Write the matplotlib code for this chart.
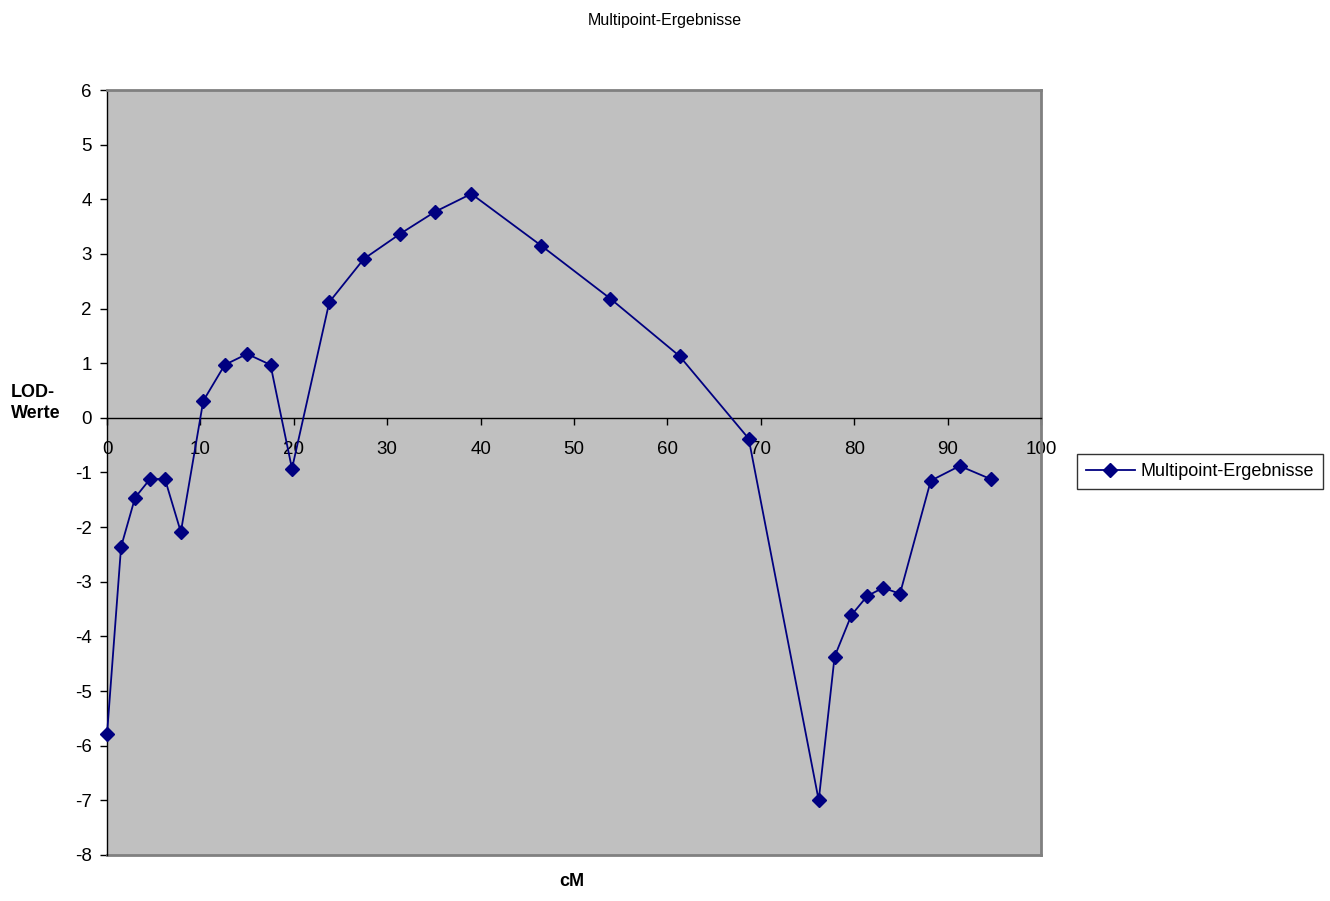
import matplotlib
matplotlib.use("Agg")
import matplotlib.pyplot as plt

plt.rcParams['font.family'] = ['Liberation Sans', 'DejaVu Sans']
plt.rcParams['axes.unicode_minus'] = False

# cM positions and LOD values
cm = [0, 1.5, 3.0, 4.6, 6.2, 7.9, 10.3, 12.6, 15.0, 17.5, 19.8, 23.8, 27.5,
      31.4, 35.1, 39.0, 46.5, 53.9, 61.3, 68.7, 76.2, 77.9, 79.7, 81.4, 83.1,
      84.9, 88.2, 91.3, 94.6]
lod = [-5.78, -2.36, -1.46, -1.12, -1.12, -2.09, 0.31, 0.97, 1.17, 0.97, -0.93,
       2.12, 2.91, 3.37, 3.77, 4.10, 3.15, 2.18, 1.13, -0.38, -7.0, -4.37,
       -3.61, -3.26, -3.11, -3.22, -1.15, -0.88, -1.12]
xticks = [0, 10, 20, 30, 40, 50, 60, 70, 80, 90, 100]
yticks = [6, 5, 4, 3, 2, 1, 0, -1, -2, -3, -4, -5, -6, -7, -8]
series_name = 'Multipoint-Ergebnisse'

fig = plt.figure(figsize=(13.3, 9.01), dpi=100)
ax = fig.add_axes([0.0805, 0.0511, 0.7022, 0.849])
ax.set_facecolor('#c0c0c0')

ax.plot(cm, lod, color='#000080', marker='D', markersize=7, linewidth=1.3,
        label=series_name, zorder=3, clip_on=False)

# x axis crosses at zero, like Excel
ax.spines['bottom'].set_position(('data', 0))
ax.spines['bottom'].set_color('black')
ax.spines['bottom'].set_linewidth(1.0)
ax.spines['left'].set_color('black')
ax.spines['left'].set_linewidth(1.0)
for s in ['top', 'right']:
    ax.spines[s].set_color('#808080')
    ax.spines[s].set_linewidth(2)

ax.set_xlim(0, 100)
ax.set_ylim(-8, 6)
ax.set_xticks(xticks)
ax.set_yticks(yticks)
ax.plot([0, 100], [-8, -8], color='#808080', linewidth=2, clip_on=False, zorder=2)

ax.tick_params(axis='x', direction='out', length=5, pad=12, width=1, labelsize=13.5)
ax.tick_params(axis='y', direction='out', length=5, pad=6, width=1, labelsize=13.5)

fig.text(0.5, 0.977, series_name, ha='center', va='center', fontsize=11.5)
fig.text(0.43, 0.012, 'cM', ha='center', va='bottom', fontsize=13, fontweight='bold')
fig.text(0.008, 0.553, 'LOD-\nWerte', ha='left', va='center', fontsize=13,
         fontweight='bold', linespacing=1.3)

leg = fig.legend(loc='center left', bbox_to_anchor=(0.8098, 0.4766), fontsize=13,
                 frameon=True, fancybox=False, edgecolor='black', handlelength=2.7,
                 borderpad=0.5, handletextpad=0.3, borderaxespad=0)
leg.get_frame().set_linewidth(1)

fig.savefig('out.png', dpi=100)
